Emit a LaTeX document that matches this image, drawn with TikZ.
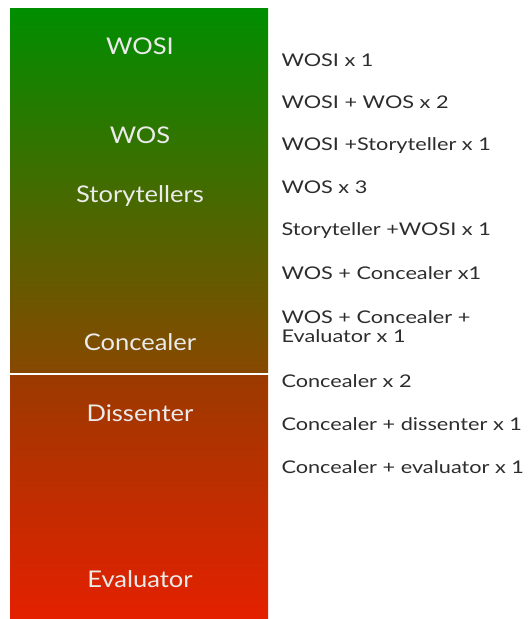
\documentclass[tikz,border=0pt]{standalone}
\usepackage{fontspec}
\setmainfont{Lato}
\newfontfamily\rolefont[FakeStretch=1.11]{Lato}
\newfontfamily\combofont[FakeStretch=1.24]{Lato}
\definecolor{gtop}{RGB}{0,142,0}
\definecolor{gmid}{RGB}{135,72,0}
\definecolor{rtop}{RGB}{155,58,0}
\definecolor{rbot}{RGB}{228,32,0}
\definecolor{lbl}{RGB}{235,235,235}
\definecolor{txt}{RGB}{45,45,45}
\tikzset{
  role/.style={text=lbl, font=\rolefont\fontsize{23}{26}\selectfont, anchor=center},
  combo/.style={text=txt, font=\combofont\fontsize{17.5}{21}\selectfont, anchor=west, align=left},
}
\begin{document}
\begin{tikzpicture}[x=1pt,y=-1pt]
\useasboundingbox (0,0) rectangle (528,619);
\fill[white] (0,0) rectangle (528,619);
\shade[top color=gtop, bottom color=gmid] (10,8) rectangle (268,372.5);
\shade[top color=rtop, bottom color=rbot] (10,375.5) rectangle (268,618);
\node[role] (wosi) at (140,46) {WOSI};
\node[role] (wos) at (140,135) {WOS};
\node[role] (story) at (140,196) {Storytellers};
\node[role] (conc) at (140,342) {Concealer};
\node[role] (diss) at (140,413) {Dissenter};
\node[role] (eval) at (140,579) {Evaluator};
\node[combo] (c1) at (278,60) {WOSI x 1};
\node[combo] (c2) at (278,102) {WOSI + WOS x 2};
\node[combo] (c3) at (278,146) {WOSI +Storyteller x 1};
\node[combo] (c4) at (278,187) {WOS x 3};
\node[combo] (c5) at (278,231) {Storyteller +WOSI x 1};
\node[combo] (c6) at (278,273) {WOS + Concealer x1};
\node[combo] (c7) at (278,327) {WOS + Concealer +\\[-2pt]Evaluator x 1};
\node[combo] (c8) at (278,381) {Concealer x 2};
\node[combo] (c9) at (278,424) {Concealer + dissenter x 1};
\node[combo] (c10) at (278,467) {Concealer + evaluator x 1};
\end{tikzpicture}
\end{document}
